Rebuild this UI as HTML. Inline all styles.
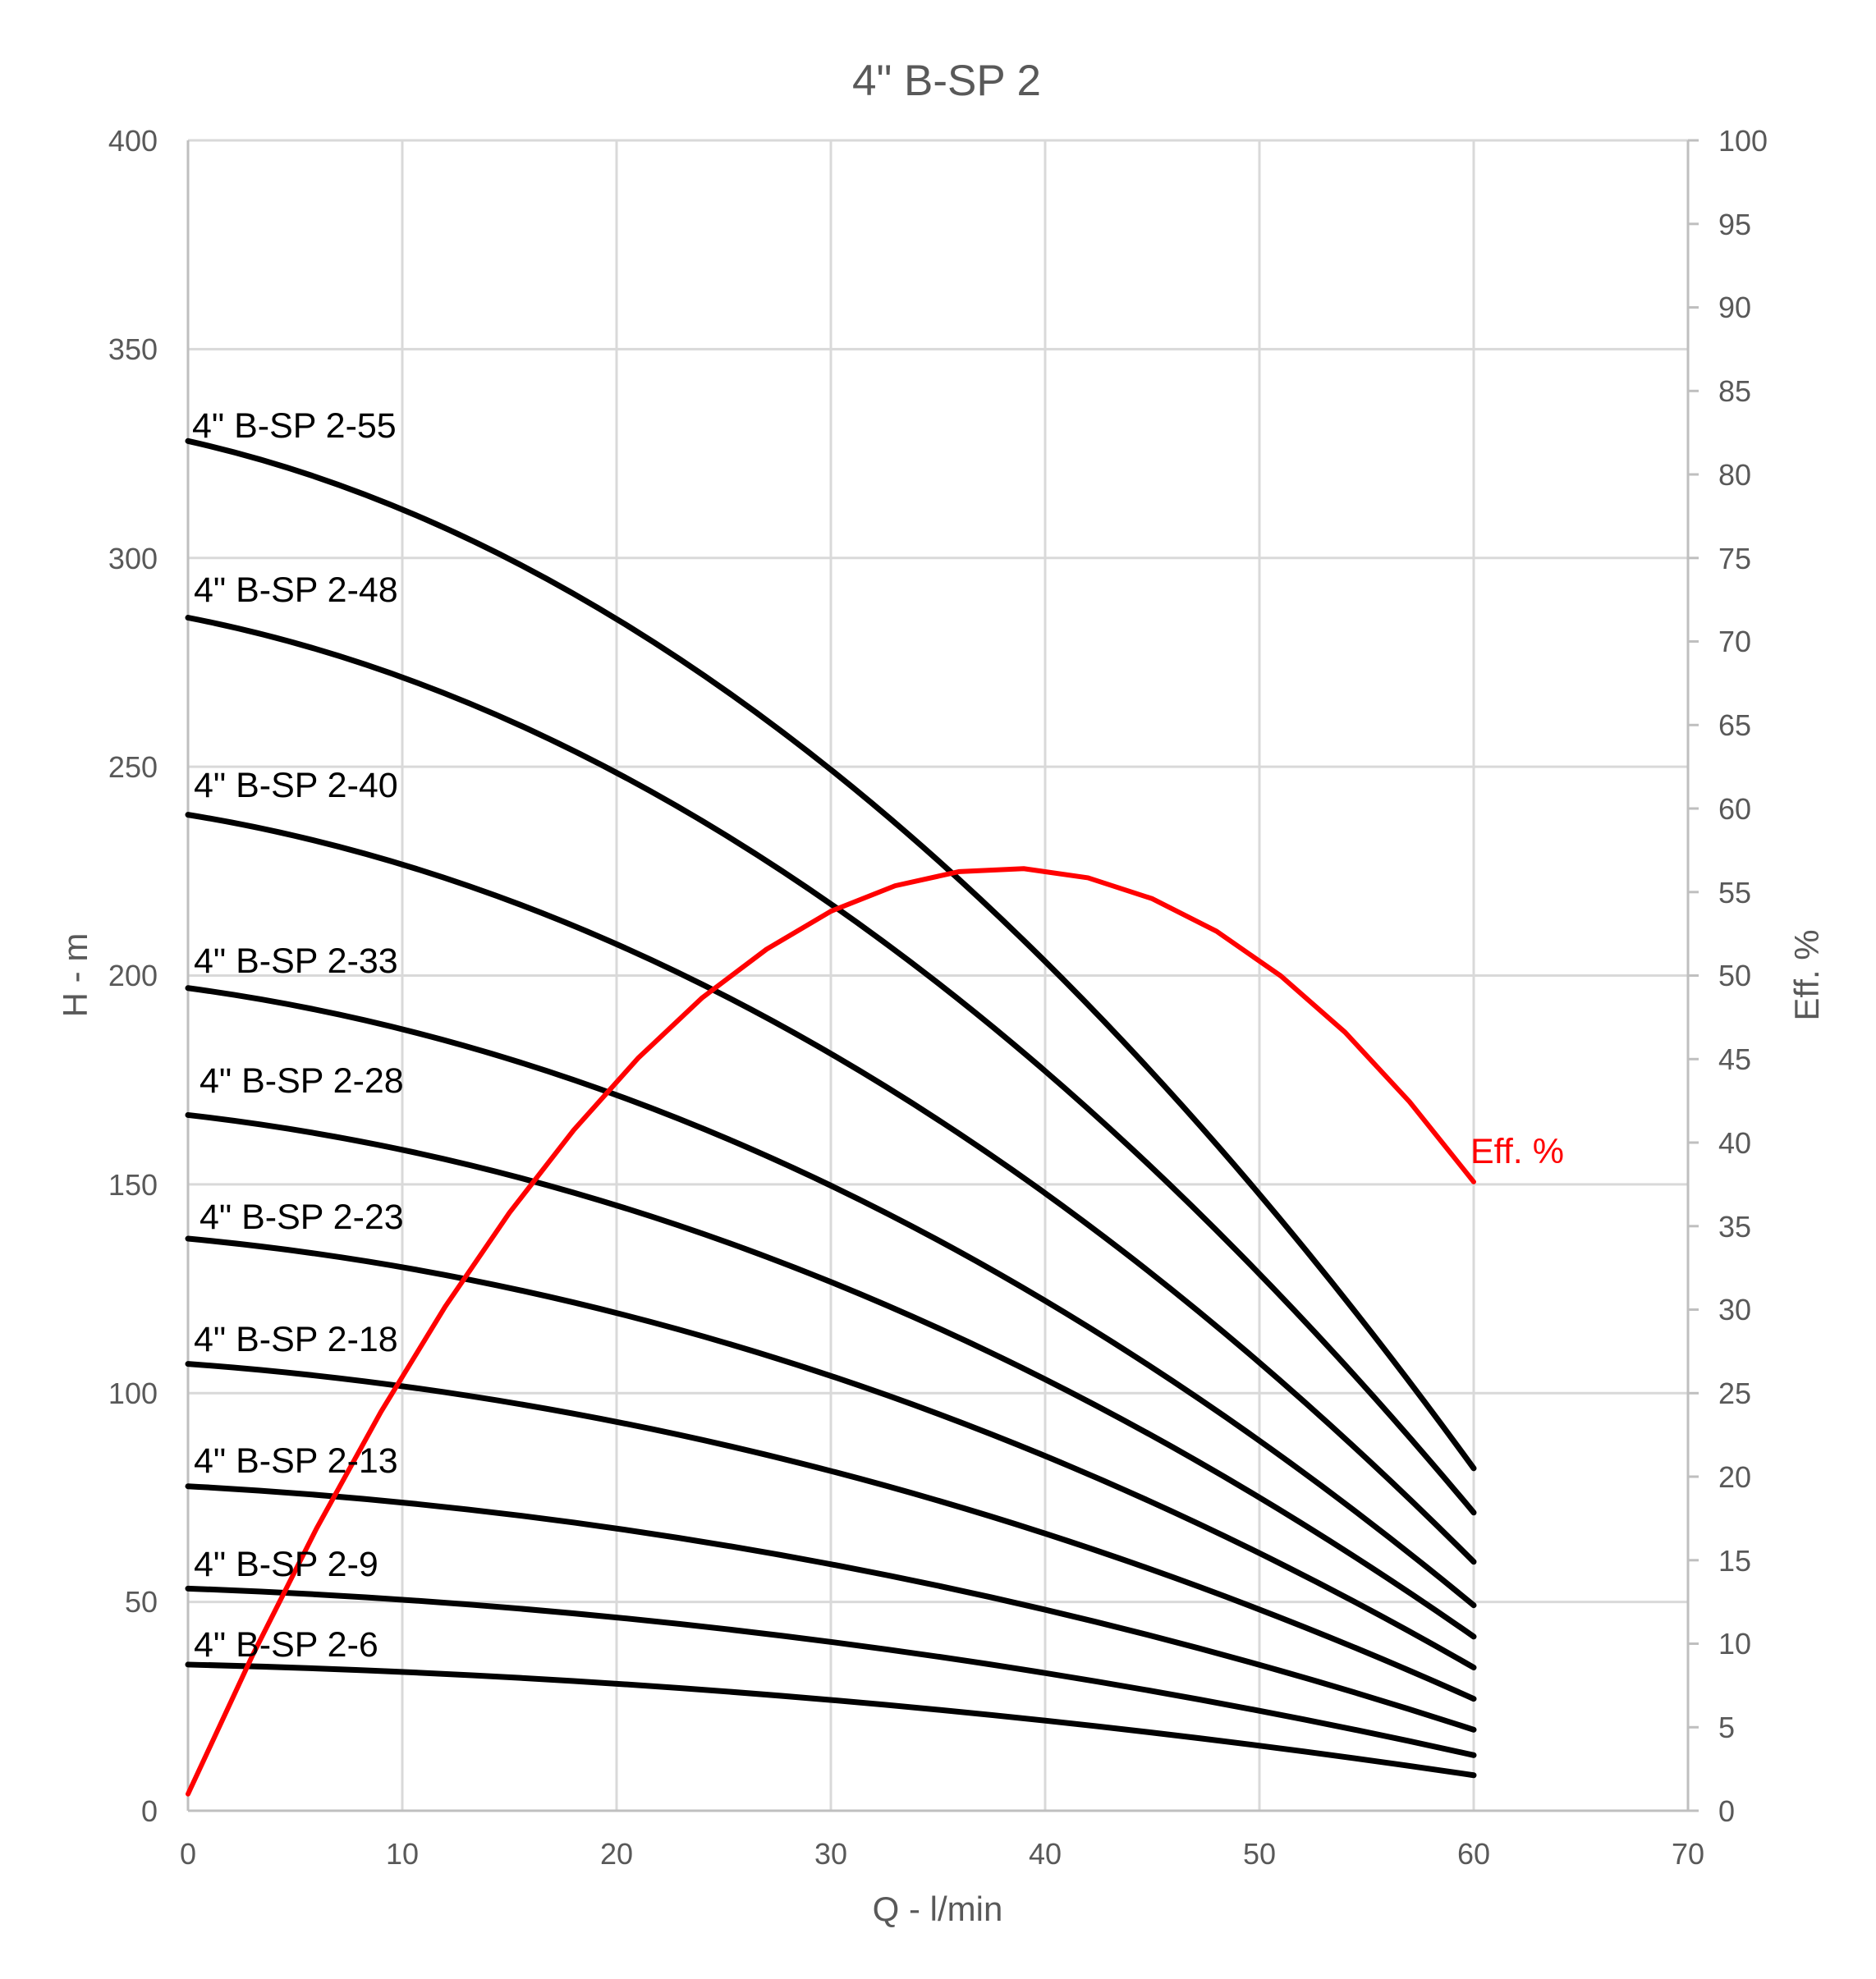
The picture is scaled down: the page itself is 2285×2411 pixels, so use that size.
<!DOCTYPE html>
<html><head><meta charset="utf-8"><style>
html,body{margin:0;padding:0;background:#fff;}
svg{display:block;}
.t{font-family:"Liberation Sans",sans-serif;fill:#595959;font-size:36px;}
.l{font-family:"Liberation Sans",sans-serif;fill:#000;font-size:43px;}
</style></head><body>
<svg width="2285" height="2411" viewBox="0 0 2285 2411" xmlns="http://www.w3.org/2000/svg">
<rect width="2285" height="2411" fill="#fff"/>
<g stroke="#d9d9d9" stroke-width="3">
<line x1="229" y1="171" x2="2056" y2="171"/>
<line x1="229" y1="425.4" x2="2056" y2="425.4"/>
<line x1="229" y1="679.8" x2="2056" y2="679.8"/>
<line x1="229" y1="934.1" x2="2056" y2="934.1"/>
<line x1="229" y1="1188.5" x2="2056" y2="1188.5"/>
<line x1="229" y1="1442.9" x2="2056" y2="1442.9"/>
<line x1="229" y1="1697.3" x2="2056" y2="1697.3"/>
<line x1="229" y1="1951.6" x2="2056" y2="1951.6"/>
<line x1="490" y1="171" x2="490" y2="2206"/>
<line x1="751" y1="171" x2="751" y2="2206"/>
<line x1="1012" y1="171" x2="1012" y2="2206"/>
<line x1="1273" y1="171" x2="1273" y2="2206"/>
<line x1="1534" y1="171" x2="1534" y2="2206"/>
<line x1="1795" y1="171" x2="1795" y2="2206"/>
</g>
<g stroke="#bfbfbf" stroke-width="3">
<line x1="229" y1="171" x2="229" y2="2206"/>
<line x1="2056" y1="171" x2="2056" y2="2206"/>
<line x1="229" y1="2206" x2="2056" y2="2206"/>
<line x1="2056" y1="171" x2="2069" y2="171"/><line x1="2056" y1="272.8" x2="2069" y2="272.8"/><line x1="2056" y1="374.5" x2="2069" y2="374.5"/><line x1="2056" y1="476.3" x2="2069" y2="476.3"/><line x1="2056" y1="578" x2="2069" y2="578"/><line x1="2056" y1="679.8" x2="2069" y2="679.8"/><line x1="2056" y1="781.5" x2="2069" y2="781.5"/><line x1="2056" y1="883.3" x2="2069" y2="883.3"/><line x1="2056" y1="985" x2="2069" y2="985"/><line x1="2056" y1="1086.8" x2="2069" y2="1086.8"/><line x1="2056" y1="1188.5" x2="2069" y2="1188.5"/><line x1="2056" y1="1290.3" x2="2069" y2="1290.3"/><line x1="2056" y1="1392" x2="2069" y2="1392"/><line x1="2056" y1="1493.8" x2="2069" y2="1493.8"/><line x1="2056" y1="1595.5" x2="2069" y2="1595.5"/><line x1="2056" y1="1697.3" x2="2069" y2="1697.3"/><line x1="2056" y1="1799" x2="2069" y2="1799"/><line x1="2056" y1="1900.8" x2="2069" y2="1900.8"/><line x1="2056" y1="2002.5" x2="2069" y2="2002.5"/><line x1="2056" y1="2104.3" x2="2069" y2="2104.3"/><line x1="2056" y1="2206" x2="2069" y2="2206"/>
</g>
<text x="1153" y="116" text-anchor="middle" class="t" style="font-size:53px">4" B-SP 2</text>
<g class="t" text-anchor="end">
<text x="192" y="184">400</text><text x="192" y="438">350</text><text x="192" y="693">300</text><text x="192" y="947">250</text><text x="192" y="1201">200</text><text x="192" y="1456">150</text><text x="192" y="1710">100</text><text x="192" y="1964">50</text><text x="192" y="2219">0</text>
</g>
<g class="t">
<text x="2093" y="184">100</text><text x="2093" y="286">95</text><text x="2093" y="387">90</text><text x="2093" y="489">85</text><text x="2093" y="591">80</text><text x="2093" y="693">75</text><text x="2093" y="794">70</text><text x="2093" y="896">65</text><text x="2093" y="998">60</text><text x="2093" y="1100">55</text><text x="2093" y="1201">50</text><text x="2093" y="1303">45</text><text x="2093" y="1405">40</text><text x="2093" y="1507">35</text><text x="2093" y="1608">30</text><text x="2093" y="1710">25</text><text x="2093" y="1812">20</text><text x="2093" y="1914">15</text><text x="2093" y="2015">10</text><text x="2093" y="2117">5</text><text x="2093" y="2219">0</text>
</g>
<g class="t" text-anchor="middle">
<text x="229" y="2271">0</text><text x="490" y="2271">10</text><text x="751" y="2271">20</text><text x="1012" y="2271">30</text><text x="1273" y="2271">40</text><text x="1534" y="2271">50</text><text x="1795" y="2271">60</text><text x="2056" y="2271">70</text>
<text x="1142" y="2340" style="font-size:42px">Q - l/min</text>
<text transform="translate(106,1188) rotate(-90)" style="font-size:42px">H - m</text>
<text transform="translate(2215,1188) rotate(-90)" style="font-size:42px">Eff. %</text>
</g>
<g transform="translate(229,2206) scale(26.1,-5.0875)" fill="none" stroke="#000" stroke-width="7" stroke-linecap="round">
<path vector-effect="non-scaling-stroke" d="M0 328 Q30 293.6 60 82"/>
<path vector-effect="non-scaling-stroke" d="M0 285.7 Q30 255.7 60 71.4"/>
<path vector-effect="non-scaling-stroke" d="M0 238.5 Q30 213.5 60 59.6"/>
<path vector-effect="non-scaling-stroke" d="M0 197 Q30 176.3 60 49.2"/>
<path vector-effect="non-scaling-stroke" d="M0 166.6 Q30 149.1 60 41.7"/>
<path vector-effect="non-scaling-stroke" d="M0 137 Q30 122.6 60 34.3"/>
<path vector-effect="non-scaling-stroke" d="M0 107 Q30 95.8 60 26.8"/>
<path vector-effect="non-scaling-stroke" d="M0 77.7 Q30 69.5 60 19.4"/>
<path vector-effect="non-scaling-stroke" d="M0 53.2 Q30 47.6 60 13.3"/>
<path vector-effect="non-scaling-stroke" d="M0 35 Q30 31.3 60 8.5"/>
<polyline vector-effect="non-scaling-stroke" stroke="#ff0000" stroke-width="6" stroke-linejoin="round" points="0,4 3,37.1 6,67.6 9,95.5 12,120.7 15,143.2 18,163 21,180.2 24,194.7 27,206.3 30,215.4 33,221.5 36,224.9 39,225.6 42,223.4 45,218.4 48,210.6 51,199.9 54,186.4 57,169.8 60,150.6"/>
</g>
<g class="l">
<text x="234" y="533">4" B-SP 2-55</text>
<text x="236" y="733">4" B-SP 2-48</text>
<text x="236" y="971">4" B-SP 2-40</text>
<text x="236" y="1185">4" B-SP 2-33</text>
<text x="243" y="1331">4" B-SP 2-28</text>
<text x="243" y="1497">4" B-SP 2-23</text>
<text x="236" y="1646">4" B-SP 2-18</text>
<text x="236" y="1794">4" B-SP 2-13</text>
<text x="236" y="1920">4" B-SP 2-9</text>
<text x="236" y="2018">4" B-SP 2-6</text>
<text x="1791" y="1417" style="fill:#ff0000">Eff. %</text>
</g>
</svg>
</body></html>
